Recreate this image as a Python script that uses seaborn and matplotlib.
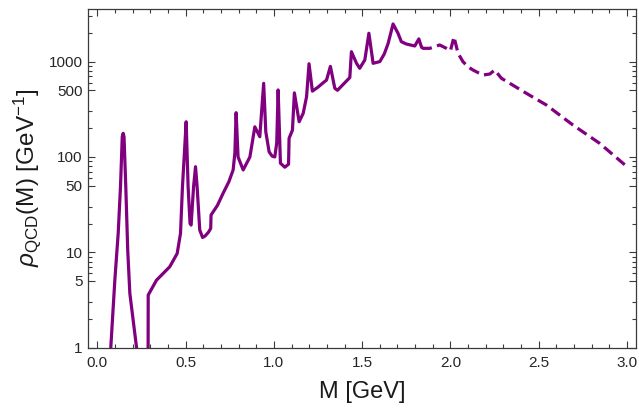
import numpy as np
import pandas as pd
import matplotlib
matplotlib.use("Agg")
import matplotlib.pyplot as plt
import seaborn as sns
from matplotlib.ticker import FixedLocator, NullFormatter

# Spectral function rho_QCD(M) in GeV^-1: resonance region (solid)
solid_m = [0.070, 0.076, 0.099, 0.118, 0.131, 0.141, 0.146, 0.151, 0.161, 0.172, 0.184, 0.222, 0.230,
           0.287, 0.288, 0.335, 0.410, 0.452, 0.471, 0.482, 0.494, 0.503, 0.514, 0.525, 0.531, 0.545,
           0.556, 0.565, 0.580, 0.596, 0.610, 0.630, 0.642, 0.644, 0.680, 0.712, 0.745, 0.769, 0.779,
           0.786, 0.797, 0.826, 0.864, 0.892, 0.920, 0.942, 0.954, 0.973, 0.990, 1.005, 1.016, 1.024,
           1.037, 1.062, 1.083, 1.086, 1.105, 1.116, 1.143, 1.166, 1.185, 1.199, 1.218, 1.250, 1.279,
           1.298, 1.320, 1.345, 1.360, 1.430, 1.439, 1.468, 1.486, 1.515, 1.538, 1.562, 1.600, 1.625,
           1.647, 1.675, 1.703, 1.722, 1.750, 1.798, 1.821, 1.836]
solid_rho = [0.5, 1.0, 5.1, 15.8, 48.7, 163, 177, 163, 48.7, 10.5, 3.7, 1.0, 0.5,
             0.3, 3.56, 5.1, 7.05, 9.7, 15.8, 48.7, 118, 234, 48.7, 20.0, 19.3, 48.7,
             79, 48.7, 17.1, 14.3, 14.8, 16.3, 17.8, 24.6, 31, 41.5, 55, 73, 110,
             291, 100, 73, 100, 207, 163, 592, 184, 113, 102, 100, 140, 504,
             86, 78, 84, 157, 191, 470, 234, 287, 428, 950, 490, 540, 600,
             640, 890, 525, 500, 680, 1270, 960, 851, 1040, 1983, 960, 1000, 1200,
             1550, 2481, 1983, 1617, 1530, 1458, 1730, 1420]

# Continuum region (dashed)
dashed_m = [1.836, 1.845, 1.883, 1.939, 1.977, 2.000, 2.020, 2.043, 2.071, 2.100, 2.128, 2.160,
            2.185, 2.223, 2.251, 2.289, 2.430, 2.544, 2.694, 2.845, 2.990]
dashed_rho = [1420, 1378, 1378, 1494, 1378, 1300, 1820, 1222, 998, 880, 816, 760,
              723, 741, 816, 668, 465, 350, 216, 139, 82]

x_major = [0.0, 0.5, 1.0, 1.5, 2.0, 2.5, 3.0]
y_major = [1, 5, 10, 50, 100, 500, 1000]
y_minor = [2, 3, 6, 7, 8, 9, 20, 30, 60, 70, 80, 90, 200, 300, 600, 700, 800, 900, 2000, 3000]

sns.set_style("ticks")
plt.rcParams["font.family"] = ["Liberation Sans", "DejaVu Sans"]
plt.rcParams["mathtext.fontset"] = "custom"
plt.rcParams["mathtext.rm"] = "Liberation Sans"
plt.rcParams["mathtext.it"] = "Liberation Sans:italic"

purple = "#800080"
frame = "#3a3a3a"

fig = plt.figure(figsize=(6.39, 4.08), dpi=100)
ax = fig.add_axes([0.138, 0.148, 0.857, 0.831])

solid = pd.DataFrame({"M": solid_m, "rho": solid_rho})
dashed = pd.DataFrame({"M": dashed_m, "rho": dashed_rho})
sns.lineplot(data=solid, x="M", y="rho", sort=False, estimator=None, ax=ax,
             color=purple, lw=2.3, solid_joinstyle="round")
sns.lineplot(data=dashed, x="M", y="rho", sort=False, estimator=None, ax=ax,
             color=purple, lw=2.3)
ax.lines[-1].set_dashes((3.4, 1.7))
ax.lines[-1].set_dash_capstyle("butt")

ax.set_yscale("log")
ax.set_xlim(-0.052, 3.05)
ax.set_ylim(1, 3600)

ax.xaxis.set_major_locator(FixedLocator(x_major))
ax.xaxis.set_minor_locator(FixedLocator(np.round(np.arange(0.0, 3.05, 0.1), 2)))
ax.set_xticklabels([f"{v:.1f}" for v in x_major])
ax.yaxis.set_major_locator(FixedLocator(y_major))
ax.yaxis.set_minor_locator(FixedLocator(y_minor))
ax.yaxis.set_minor_formatter(NullFormatter())
ax.set_yticklabels([str(v) for v in y_major])

ax.tick_params(which="both", direction="in", top=True, right=True, color=frame,
               labelsize=11, labelcolor="#262626", width=0.8)
ax.tick_params(which="major", length=5)
ax.tick_params(which="minor", length=2.6)
ax.tick_params(axis="x", pad=6)
ax.tick_params(axis="y", pad=4)
for s in ax.spines.values():
    s.set_color(frame)
    s.set_linewidth(0.9)

ax.set_xlabel("M [GeV]", fontsize=17, color="#1a1a1a", labelpad=8)
ax.set_ylabel(r"$\it{\rho}_{\mathrm{QCD}}$(M) [GeV$^{-1}$]", fontsize=17.5, color="#1a1a1a", labelpad=4)

fig.savefig("out.png", dpi=100)
